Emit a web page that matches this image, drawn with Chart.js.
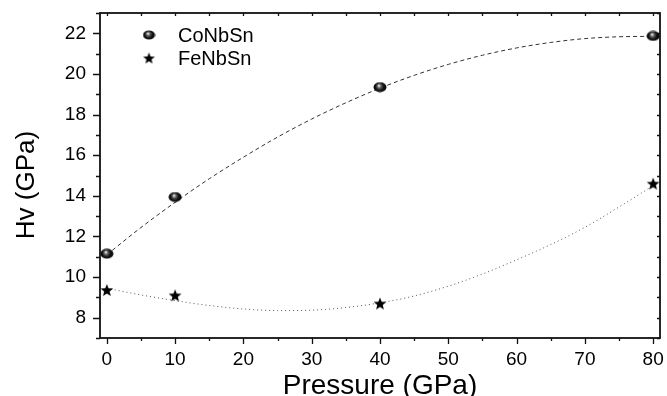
<!DOCTYPE html>
<html>
<head>
<meta charset="utf-8">
<title>Hv vs Pressure</title>
<script src="https://cdn.jsdelivr.net/npm/chart.js@4.4.1/dist/chart.umd.min.js"></script>
<style>
    html, body { margin: 0; padding: 0; background: #fff; }
</style>
</head>
<body>
<canvas id="hvChart" width="667" height="396"></canvas>
<script>
const pressure = [0, 10, 40, 80];
const hvCoNbSn = [11.15, 13.94, 19.35, 21.87];
const hvFeNbSn = [9.36, 9.10, 8.70, 14.60];

// Fitted curves, sampled every 5 GPa from the figure
const fitPressure = [0, 5, 10, 15, 20, 25, 30, 35, 40, 45, 50, 55, 60, 65, 70, 75, 80];
const fitCoNbSn = [11.10, 12.44, 13.68, 14.84, 15.90, 16.89, 17.78, 18.58, 19.30, 19.93, 20.47, 20.92, 21.28, 21.55, 21.74, 21.83, 21.85];
const fitFeNbSn = [9.45, 9.12, 8.84, 8.60, 8.43, 8.35, 8.37, 8.50, 8.73, 9.07, 9.55, 10.15, 10.85, 11.60, 12.45, 13.45, 14.50];

// Tick labels
const xTicks = [0, 10, 20, 30, 40, 50, 60, 70, 80];
const yTicks = [8, 10, 12, 14, 16, 18, 20, 22];

const labels = ['CoNbSn', 'FeNbSn'];
const yTitle = 'Hv (GPa)';

Chart.defaults.font.family = "'Liberation Sans', Arial, sans-serif";
Chart.defaults.color = '#000';

// Kugel-Marker (schwarz mit Glanzpunkt)
function makeSphere(w, h) {
    const c = document.createElement('canvas');
    c.width = w;
    c.height = h;
    const g = c.getContext('2d');
    const grad = g.createRadialGradient(w * 0.42, h * 0.36, 0.4, w / 2, h / 2, w / 2);
    grad.addColorStop(0, '#f0f0f0');
    grad.addColorStop(0.22, '#666');
    grad.addColorStop(0.55, '#141414');
    grad.addColorStop(1, '#000');
    g.fillStyle = grad;
    g.beginPath();
    g.ellipse(w / 2, h / 2, w / 2 - 0.5, h / 2 - 0.5, 0, 0, Math.PI * 2);
    g.fill();
    return c;
}

// Stern-Marker (gefuellt, 5 Zacken)
function makeStar(size) {
    const c = document.createElement('canvas');
    c.width = size;
    c.height = size;
    const g = c.getContext('2d');
    const cx = size / 2, cy = size / 2 + 0.6;
    const ro = size / 2 - 0.3, ri = ro * 0.42;
    g.fillStyle = '#000';
    g.beginPath();
    for (let i = 0; i < 10; i++) {
        const r = i % 2 === 0 ? ro : ri;
        const ang = -Math.PI / 2 + i * Math.PI / 5;
        const px = cx + r * Math.cos(ang), py = cy + r * Math.sin(ang);
        if (i === 0) g.moveTo(px, py); else g.lineTo(px, py);
    }
    g.closePath();
    g.fill();
    return c;
}

const sphere = makeSphere(14, 11);
const star = makeStar(14);
const sphereSmall = makeSphere(13, 10);
const starSmall = makeStar(13);

function toXY(xs, ys) {
    return xs.map((x, i) => ({ x: x, y: ys[i] }));
}

// Rahmen + Haupt-/Nebenstriche auf allen vier Seiten
const frameTicks = {
    id: 'frameTicks',
    afterDraw(chart) {
        const { ctx, chartArea: a, scales: { x, y } } = chart;
        ctx.save();
        ctx.strokeStyle = '#111';
        ctx.lineWidth = 1.8;
        ctx.strokeRect(a.left, a.top, a.right - a.left, a.bottom - a.top);
        ctx.lineWidth = 1.3;
        ctx.beginPath();
        for (let v = 0; v <= 80; v += 5) {
            const px = Math.round(x.getPixelForValue(v)) + 0.5;
            const major = v % 10 === 0;
            ctx.moveTo(px, a.bottom);
            ctx.lineTo(px, a.bottom + (major ? 6 : 3));
            ctx.moveTo(px, a.top);
            ctx.lineTo(px, a.top + 3);
        }
        for (let v = 7; v <= 23; v += 1) {
            const py = Math.round(y.getPixelForValue(v)) + 0.5;
            const major = v % 2 === 0;
            ctx.moveTo(a.left - (major ? 7 : 4), py);
            ctx.lineTo(a.left, py);
            ctx.moveTo(a.right, py);
            ctx.lineTo(a.right - 3, py);
        }
        ctx.stroke();

        // Y-Achsentitel (etwas unter der Mitte, wie im Original)
        ctx.font = "26px 'Liberation Sans', Arial, sans-serif";
        ctx.fillStyle = '#000';
        ctx.textAlign = 'center';
        ctx.textBaseline = 'middle';
        ctx.translate(27, 185);
        ctx.rotate(-Math.PI / 2);
        ctx.fillText(yTitle, 0, 0);
        ctx.restore();
    }
};

// Legende innerhalb der Zeichenflaeche (oben links)
const insideLegend = {
    id: 'insideLegend',
    afterDraw(chart) {
        const { ctx } = chart;
        const marks = [sphereSmall, starSmall];
        ctx.save();
        ctx.font = "20px 'Liberation Sans', Arial, sans-serif";
        ctx.fillStyle = '#000';
        ctx.textBaseline = 'middle';
        labels.forEach((txt, i) => {
            const cy = 35 + i * 23;
            ctx.drawImage(marks[i], 149 - marks[i].width / 2, cy - marks[i].height / 2);
            ctx.fillText(txt, 178, cy + 1);
        });
        ctx.restore();
    }
};

const ctx = document.getElementById('hvChart').getContext('2d');
const hvChart = new Chart(ctx, {
    type: 'scatter',
    data: {
        datasets: [
            {
                label: labels[0],
                data: toXY(pressure, hvCoNbSn),
                pointStyle: sphere,
                pointRadius: 6,
                order: 0,
            },
            {
                label: labels[1],
                data: toXY(pressure, hvFeNbSn),
                pointStyle: star,
                pointRadius: 6,
                order: 0,
            },
            {
                label: 'fit CoNbSn',
                data: toXY(fitPressure, fitCoNbSn),
                showLine: true,
                cubicInterpolationMode: 'monotone',
                borderColor: '#333',
                borderWidth: 1,
                borderDash: [4, 3],
                pointRadius: 0,
                order: 1,
            },
            {
                label: 'fit FeNbSn',
                data: toXY(fitPressure, fitFeNbSn),
                showLine: true,
                cubicInterpolationMode: 'monotone',
                borderColor: '#555',
                borderWidth: 1,
                borderDash: [1, 3],
                pointRadius: 0,
                order: 1,
            },
        ],
    },
    options: {
        responsive: false,
        animation: false,
        layout: {
            padding: { top: 13, right: 7, left: 0, bottom: 0 },
        },
        plugins: {
            legend: { display: false },
            tooltip: { enabled: false },
        },
        scales: {
            x: {
                type: 'linear',
                position: 'bottom',
                min: -1,
                max: 81,
                afterBuildTicks: function (scale) {
                    scale.ticks = xTicks.map(v => ({ value: v }));
                },
                afterFit: function (scale) {
                    scale.height = 58;
                    scale.paddingLeft = 0;
                    scale.paddingRight = 0;
                },
                grid: { display: false, drawTicks: false },
                border: { display: false },
                ticks: {
                    padding: 10,
                    maxRotation: 0,
                    font: { size: 19 },
                    color: '#000',
                },
                title: {
                    display: true,
                    text: 'Pressure (GPa)',
                    font: { size: 28, lineHeight: 0.72 },
                    color: '#000',
                    padding: 0,
                },
            },
            y: {
                type: 'linear',
                min: 7,
                max: 23,
                afterBuildTicks: function (scale) {
                    scale.ticks = yTicks.map(v => ({ value: v }));
                },
                afterFit: function (scale) {
                    scale.width = 100;
                    scale.paddingTop = 0;
                    scale.paddingBottom = 0;
                },
                grid: { display: false, drawTicks: false },
                border: { display: false },
                ticks: {
                    padding: 14,
                    font: { size: 19 },
                    color: '#000',
                },
                title: { display: false },
            },
        },
    },
    plugins: [frameTicks, insideLegend],
});
</script>
</body>
</html>
